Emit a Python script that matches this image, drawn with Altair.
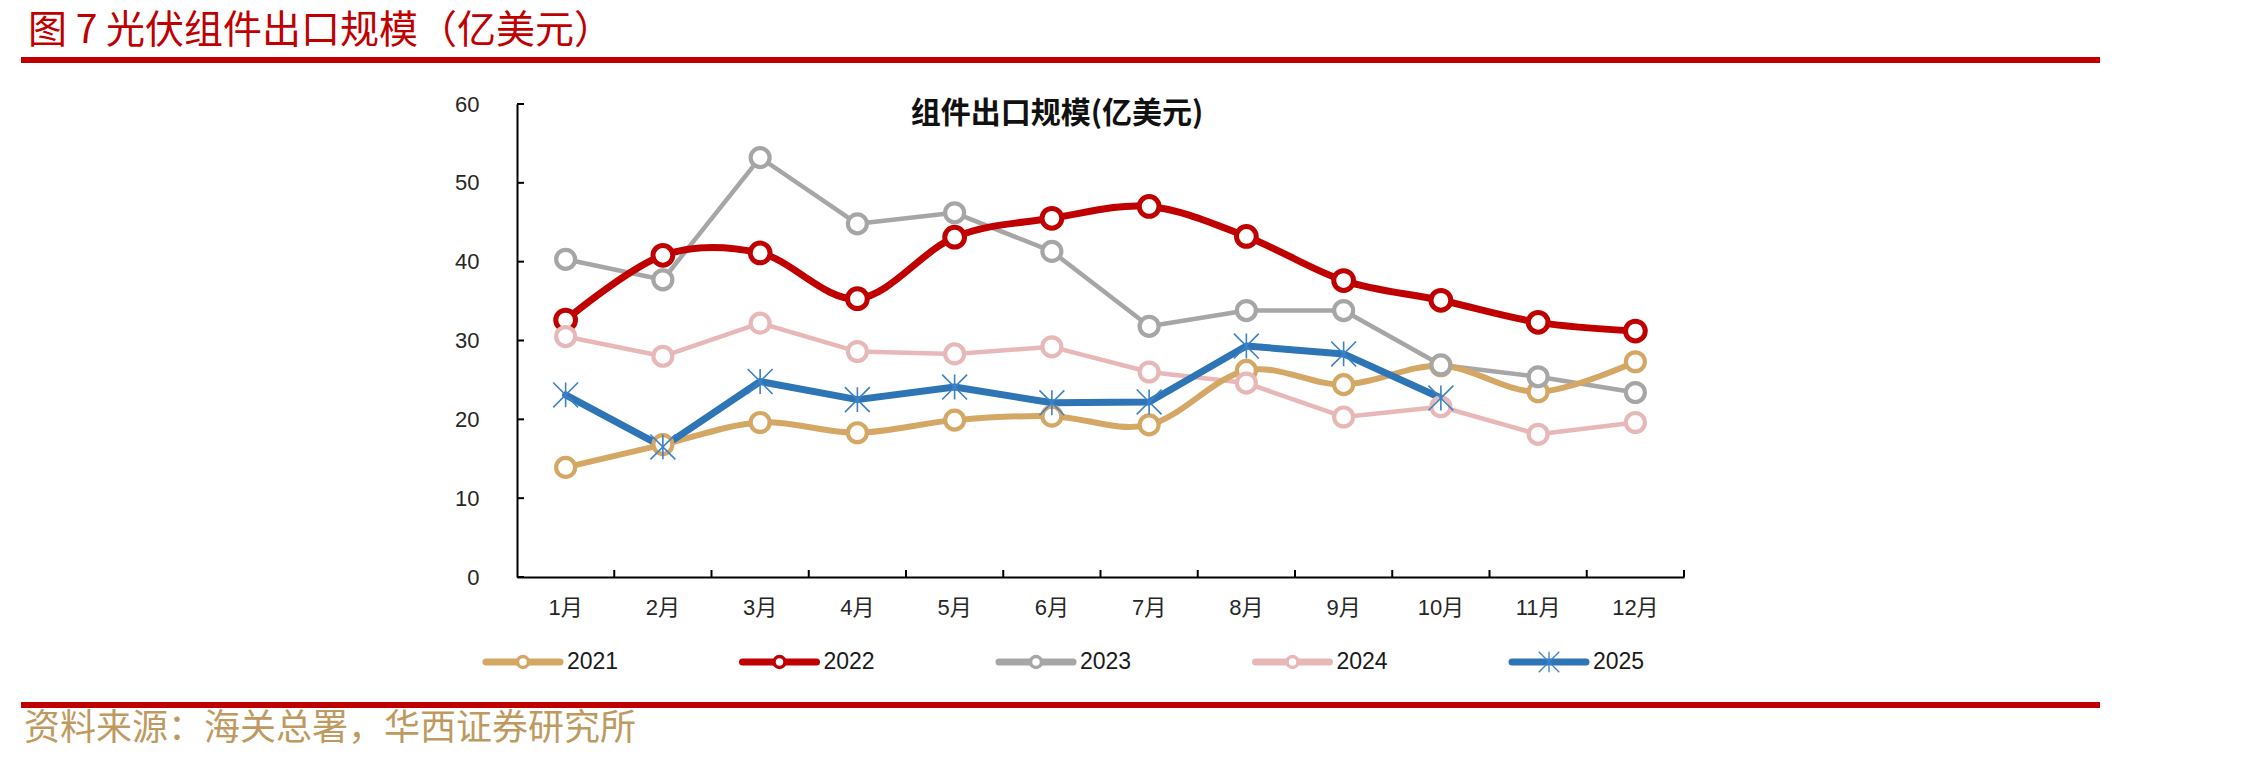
import altair as alt
import pandas as pd

# ---- data ---------------------------------------------------------------
months = [f"{i}月" for i in range(1, 13)]
years = ["2021", "2022", "2023", "2024", "2025"]

v2021 = [13.9, 16.8, 19.6, 18.3, 19.9, 20.4, 19.3, 26.2, 24.4, 26.8, 23.5, 27.3]
v2022 = [32.6, 40.8, 41.1, 35.3, 43.1, 45.5, 47.0, 43.2, 37.6, 35.1, 32.3, 31.2]
v2023 = [40.3, 37.7, 53.2, 44.8, 46.2, 41.3, 31.8, 33.8, 33.8, 26.9, 25.4, 23.4]
v2024 = [30.5, 28.0, 32.2, 28.6, 28.3, 29.2, 26.0, 24.6, 20.3, 21.6, 18.1, 19.6]
v2025 = [23.1, 16.5, 24.8, 22.5, 24.1, 22.1, 22.2, 29.3, 28.3, 22.7]

y_ticks = [0, 10, 20, 30, 40, 50, 60]

header = "图 7 光伏组件出口规模（亿美元）"
chart_title = "组件出口规模(亿美元)"
source = "资料来源：海关总署，华西证券研究所"

values = {"2021": v2021, "2022": v2022, "2023": v2023, "2024": v2024, "2025": v2025}

# ---- styling --------------------------------------------------------------
colors = {"2021": "#D4A764", "2022": "#C00000", "2023": "#A6A6A6",
          "2024": "#E8B8B8", "2025": "#2E75B6"}
line_w = {"2021": 6, "2022": 7, "2023": 4.5, "2024": 4.5, "2025": 7}
smooth = {"2021": True, "2022": True, "2023": False, "2024": False, "2025": False}
STAR = "M0,-1L0,1M-1,-1L1,1M-1,1L1,-1"
STAR_COLOR = "#3C82C8"
RED = "#C00000"
NUM_FONT = "Liberation Sans, Noto Sans CJK SC"
CJK_FONT = "Noto Sans CJK SC"

W, H = 1167, 473
PAD = {"left": 517, "top": 104, "right": 575, "bottom": 186}

x_scale = alt.Scale(type="band", domain=months, paddingInner=0, paddingOuter=0)
y_scale = alt.Scale(domain=[0, 60], nice=False, zero=True)

x_axis = alt.Axis(title=None, orient="bottom", ticks=False, tickSize=0, labelAngle=0,
                  labelFont=NUM_FONT, labelFontSize=22, labelColor="#262626",
                  labelPadding=20, domainColor="black", domainWidth=2, grid=False)
y_axis = alt.Axis(title=None, values=y_ticks, ticks=False, tickSize=0,
                  labelFont=NUM_FONT, labelFontSize=22, labelColor="#262626",
                  labelPadding=38, domainColor="black", domainWidth=2, grid=False)


def series_df(year):
    vals = values[year]
    return pd.DataFrame({"month": months[:len(vals)], "value": vals, "year": year})


def xe(band=0.5):
    return alt.X("month:N", sort=months, scale=x_scale, bandPosition=band, axis=x_axis)


ye = alt.Y("value:Q", scale=y_scale, axis=y_axis)

# lines: thin series underneath, thick series on top
line_layers = []
for yr in ["2023", "2024", "2021", "2022", "2025"]:
    line_layers.append(
        alt.Chart(series_df(yr)).mark_line(
            color=colors[yr], strokeWidth=line_w[yr],
            interpolate="cardinal" if smooth[yr] else "linear",
            strokeJoin="round", strokeCap="round",
        ).encode(x=xe(), y=ye)
    )

# markers
marker_layers = []
for yr in years:
    if yr == "2025":
        mk = alt.Chart(series_df(yr)).mark_point(
            shape=STAR, size=620, strokeWidth=1.6, color=STAR_COLOR,
            filled=False, opacity=1)
    else:
        mk = alt.Chart(series_df(yr)).mark_point(
            shape="circle", size=390 if yr == "2022" else 360,
            strokeWidth=5 if yr == "2022" else 4.2, color=colors[yr],
            filled=False, fill="white", opacity=1)
    marker_layers.append(mk.encode(x=xe(), y=ye))

# inward tick marks on both axes
x_tick_marks = alt.Chart(pd.DataFrame({"month": months})).mark_rule(
    color="black", strokeWidth=2).encode(
    x=xe(1.0), y=alt.value(H - 7), y2=alt.value(H))
y_tick_marks = alt.Chart(pd.DataFrame({"value": y_ticks})).mark_rule(
    color="black", strokeWidth=2).encode(
    y=ye, x=alt.value(0), x2=alt.value(7))

title_text = alt.Chart(pd.DataFrame({"t": [chart_title]})).mark_text(
    font=CJK_FONT, fontSize=30, fontWeight="bold", color="#111111",
    align="center", baseline="middle").encode(
    text="t:N", x=alt.value(540), y=alt.value(10))

main = alt.layer(*line_layers, *marker_layers, x_tick_marks, y_tick_marks, title_text)

# ---- legend row -----------------------------------------------------------
leg_df = pd.DataFrame({"year": years})
leg_x = alt.X("year:N", sort=years,
              scale=alt.Scale(type="point", domain=years, range=[6, 1032], padding=0),
              axis=None)
leg_color = alt.Color("year:N", scale=alt.Scale(domain=years, range=[colors[y] for y in years]),
                      legend=None)
LEG_Y = 558

leg_line = alt.Chart(leg_df).mark_rule(
    strokeWidth=7, xOffset=-37, x2Offset=37, strokeCap="round").encode(
    x=leg_x, x2="year:N", y=alt.value(LEG_Y), color=leg_color)
leg_circ = alt.Chart(leg_df).transform_filter(alt.datum.year != "2025").mark_point(
    shape="circle", size=120, strokeWidth=3.5, filled=False, fill="white", opacity=1).encode(
    x=leg_x, y=alt.value(LEG_Y), color=leg_color)
leg_star = alt.Chart(leg_df).transform_filter(alt.datum.year == "2025").mark_point(
    shape=STAR, size=420, strokeWidth=1.3, color=STAR_COLOR, filled=False, opacity=1).encode(
    x=leg_x, y=alt.value(LEG_Y))
leg_text = alt.Chart(leg_df).mark_text(
    align="left", baseline="middle", dx=44, font="Liberation Sans",
    fontSize=23, color="#1a1a1a").encode(
    x=leg_x, y=alt.value(LEG_Y), text="year:N")

legend = alt.layer(leg_line, leg_circ, leg_star, leg_text)

# ---- page header / footer -------------------------------------------------
head_text = alt.Chart(pd.DataFrame({"t": [header]})).mark_text(
    font=CJK_FONT, fontSize=39, color=RED, align="left", baseline="middle").encode(
    text="t:N", x=alt.value(-489), y=alt.value(-73))
top_bar = alt.Chart(pd.DataFrame({"k": [0]})).mark_rule(color=RED, strokeWidth=6).encode(
    x=alt.value(-496), x2=alt.value(1583), y=alt.value(-44))
bottom_bar = alt.Chart(pd.DataFrame({"k": [0]})).mark_rule(color=RED, strokeWidth=6).encode(
    x=alt.value(-496), x2=alt.value(1583), y=alt.value(601))
foot_text = alt.Chart(pd.DataFrame({"t": [source]})).mark_text(
    font=CJK_FONT, fontSize=36, color="#BE9A60", align="left", baseline="middle").encode(
    text="t:N", x=alt.value(-493), y=alt.value(625))

chart = alt.layer(main, legend, head_text, top_bar, bottom_bar, foot_text).resolve_scale(
    x="independent", color="independent"
).properties(
    width=W, height=H, padding=PAD,
    autosize=alt.AutoSizeParams(type="none"),
    background="white",
).configure_view(stroke=None)

chart.save("out.html", embed_options={"renderer": "svg", "actions": False})
